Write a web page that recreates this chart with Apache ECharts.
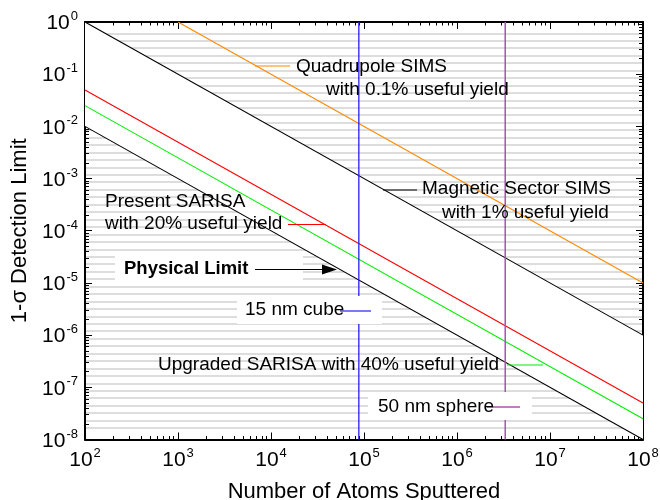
<!DOCTYPE html>
<html><head><meta charset="utf-8">
<script src="https://cdn.jsdelivr.net/npm/echarts@6/dist/echarts.min.js"></script>
<style>html,body{margin:0;padding:0;background:#fff}#c{width:660px;height:500px}</style>
</head><body><div id="c"></div>
<script>
// ---- data ----
var xTicks = [1e2, 1e3, 1e4, 1e5, 1e6, 1e7, 1e8];
var yTicks = [1e-8, 1e-7, 1e-6, 1e-5, 1e-4, 1e-3, 1e-2, 1e-1, 1e0];
var physicalLimit = [[1e2, 1e-2], [1e8, 1e-8]];
var upgradedSarisa = [[1e2, 2.5e-2], [1e8, 2.5e-8]];
var presentSarisa = [[1e2, 5e-2], [1e8, 5e-8]];
var magneticSims = [[1e2, 1], [1e8, 1e-6]];
var quadrupoleSims = [[1e3, 1], [1e8, 1e-5]];
var cube15nm = [[8.8e4, 1e-8], [8.8e4, 1]];
var sphere50nm = [[3.3e6, 1e-8], [3.3e6, 1]];

var FONT = '"Liberation Sans", Arial, sans-serif';
function minorVals(ticks) {
  var out = [];
  for (var i = 0; i < ticks.length - 1; i++) {
    for (var k = 2; k <= 9; k++) out.push(k * ticks[i]);
  }
  return out;
}
function supLabel(v) {
  var e = Math.round(Math.log10(v));
  return '{b|10}{s|' + e + '}';
}
var labelRich = {
  b: { fontSize: 21, fontFamily: FONT, color: '#000', lineHeight: 24, verticalAlign: 'bottom' },
  s: { fontSize: 13, fontFamily: FONT, color: '#000', lineHeight: 24, verticalAlign: 'top', padding: [0, 0, 0, 1] }
};
function logAxis(opts) {
  var base = {
    type: 'log', logBase: 10, gridIndex: 0,
    axisLine: { show: true, onZero: false, lineStyle: { color: '#000', width: 2 } },
    axisTick: { show: true, inside: true, length: 7, lineStyle: { color: '#000', width: 1 } },
    axisLabel: { show: false },
    splitLine: { show: false },
    minorTick: { show: false },
    minorSplitLine: { show: false }
  };
  for (var k in opts) base[k] = opts[k];
  return base;
}
var xMinor = minorVals(xTicks);
var yMinor = minorVals(yTicks);
var xCommon = { min: 1e2, max: 1e8, interval: 1 };
var yCommon = { min: 1e-8, max: 1, interval: 1 };
function ext(a, b) { var o = {}; for (var k in a) o[k] = a[k]; for (var k2 in b) o[k2] = b[k2]; return o; }

var chart = echarts.init(document.getElementById('c'), null, { renderer: 'canvas' });
var option = {
  animation: false,
  backgroundColor: '#fff',
  grid: [
    { left: 85, right: 17, top: 22, bottom: 60.5, containLabel: false, outerBoundsMode: 'none' },
    { left: 85, right: 17, top: 33.3, bottom: 72, containLabel: false, outerBoundsMode: 'none' }
  ],
  xAxis: [
    logAxis(ext(xCommon, {
      position: 'bottom',
      axisLabel: { show: true, margin: 7, formatter: supLabel, rich: labelRich },
      name: 'Number of Atoms Sputtered', nameLocation: 'middle', nameGap: 41,
      nameTextStyle: { fontSize: 22, fontFamily: FONT, color: '#000' }
    })),
    logAxis(ext(xCommon, { position: 'bottom', axisLine: { show: false },
      axisTick: { show: true, inside: true, length: 3.5, customValues: xMinor, lineStyle: { color: '#000', width: 1 } } })),
    logAxis(ext(xCommon, { position: 'top' })),
    logAxis(ext(xCommon, { position: 'top', axisLine: { show: false },
      axisTick: { show: true, inside: true, length: 3.5, customValues: xMinor, lineStyle: { color: '#000', width: 1 } } })),
    { type: 'value', gridIndex: 1, min: 0, max: 1, show: false }
  ],
  yAxis: [
    logAxis(ext(yCommon, {
      position: 'left',
      axisLabel: { show: true, margin: 7, formatter: supLabel, rich: labelRich },
      name: '1-σ Detection Limit', nameLocation: 'middle', nameGap: 51, nameRotate: 90,
      nameTextStyle: { fontSize: 22, fontFamily: FONT, color: '#000' }
    })),
    logAxis(ext(yCommon, { position: 'left', axisLine: { show: false },
      axisTick: { show: true, inside: true, length: 4, customValues: yMinor, lineStyle: { color: '#000', width: 1 } } })),
    logAxis(ext(yCommon, { position: 'right' })),
    logAxis(ext(yCommon, { position: 'right', axisLine: { show: false },
      axisTick: { show: true, inside: true, length: 4, customValues: yMinor, lineStyle: { color: '#000', width: 1 } } })),
    { type: 'value', gridIndex: 1, min: 0, max: 53, interval: 1,
      axisLine: { show: false }, axisTick: { show: false }, axisLabel: { show: false },
      splitLine: { show: true, lineStyle: { color: '#d2d2d2', width: 1.6 } } }
  ],
  series: [
    {
      type: 'custom', xAxisIndex: 0, yAxisIndex: 0, z: 1, silent: true,
      data: [[1e2, 1]],
      renderItem: function (params, api) {
        var pts = magneticSims.map(function (p) { return api.coord(p); })
          .concat(physicalLimit.slice().reverse().map(function (p) { return api.coord(p); }));
        return { type: 'polygon', shape: { points: pts }, style: { fill: '#fff' } };
      }
    },
    { type: 'line', xAxisIndex: 0, yAxisIndex: 0, data: physicalLimit, showSymbol: false, silent: true, z: 3, lineStyle: { color: '#000', width: 1.1 } },
    { type: 'line', xAxisIndex: 0, yAxisIndex: 0, data: upgradedSarisa, showSymbol: false, silent: true, z: 3, lineStyle: { color: '#00ee00', width: 1.1 } },
    { type: 'line', xAxisIndex: 0, yAxisIndex: 0, data: presentSarisa, showSymbol: false, silent: true, z: 3, lineStyle: { color: '#ff0000', width: 1.1 } },
    { type: 'line', xAxisIndex: 0, yAxisIndex: 0, data: magneticSims, showSymbol: false, silent: true, z: 3, lineStyle: { color: '#000', width: 1.1 } },
    { type: 'line', xAxisIndex: 0, yAxisIndex: 0, data: quadrupoleSims, showSymbol: false, silent: true, z: 3, lineStyle: { color: '#ff8800', width: 1.1 } },
    { type: 'line', xAxisIndex: 0, yAxisIndex: 0, data: cube15nm, showSymbol: false, silent: true, z: 3, lineStyle: { color: '#2222ee', width: 1.3 } },
    { type: 'line', xAxisIndex: 0, yAxisIndex: 0, data: sphere50nm, showSymbol: false, silent: true, z: 3, lineStyle: { color: '#a850b8', width: 1.5 } }
  ],
  graphic: [
    // white label boxes
    { type: 'rect', z: 100, silent: true, shape: { x: 115, y: 255, width: 188, height: 30 }, style: { fill: '#fff' } },
    { type: 'rect', z: 100, silent: true, shape: { x: 237, y: 296, width: 145, height: 28 }, style: { fill: '#fff' } },
    { type: 'rect', z: 100, silent: true, shape: { x: 368, y: 392, width: 164, height: 28 }, style: { fill: '#fff' } },
    // leader lines
    { type: 'line', z: 101, silent: true, shape: { x1: 255, y1: 66, x2: 290, y2: 66 }, style: { stroke: '#ff8800', lineWidth: 1.2 } },
    { type: 'line', z: 101, silent: true, shape: { x1: 383, y1: 190, x2: 417, y2: 190 }, style: { stroke: '#000', lineWidth: 1.2 } },
    { type: 'line', z: 101, silent: true, shape: { x1: 288, y1: 224.5, x2: 326, y2: 224.5 }, style: { stroke: '#ff0000', lineWidth: 1.2 } },
    { type: 'line', z: 101, silent: true, shape: { x1: 255, y1: 269.5, x2: 325, y2: 269.5 }, style: { stroke: '#000', lineWidth: 1.2 } },
    { type: 'polygon', z: 101, silent: true, shape: { points: [[322, 264.5], [337, 269.5], [322, 274.5]] }, style: { fill: '#000' } },
    { type: 'line', z: 101, silent: true, shape: { x1: 340, y1: 311, x2: 371, y2: 311 }, style: { stroke: '#2222ee', lineWidth: 1.2 } },
    { type: 'line', z: 101, silent: true, shape: { x1: 507, y1: 365, x2: 543, y2: 365 }, style: { stroke: '#00ee00', lineWidth: 1.2 } },
    { type: 'line', z: 101, silent: true, shape: { x1: 487, y1: 407, x2: 520, y2: 407 }, style: { stroke: '#800080', lineWidth: 1.2 } },
    // texts
    { type: 'text', z: 102, silent: true, style: { text: 'Quadrupole SIMS', x: 296, y: 67, font: '19px ' + FONT, fill: '#000', verticalAlign: 'middle' } },
    { type: 'text', z: 102, silent: true, style: { text: 'with 0.1% useful yield', x: 326, y: 90, font: '19px ' + FONT, fill: '#000', verticalAlign: 'middle' } },
    { type: 'text', z: 102, silent: true, style: { text: 'Magnetic Sector SIMS', x: 422, y: 189, font: '19px ' + FONT, fill: '#000', verticalAlign: 'middle' } },
    { type: 'text', z: 102, silent: true, style: { text: 'with 1% useful yield', x: 442, y: 213, font: '19px ' + FONT, fill: '#000', verticalAlign: 'middle' } },
    { type: 'text', z: 102, silent: true, style: { text: 'Present SARISA', x: 105, y: 202, font: '19px ' + FONT, fill: '#000', verticalAlign: 'middle' } },
    { type: 'text', z: 102, silent: true, style: { text: 'with 20% useful yield', x: 105, y: 224, font: '19px ' + FONT, fill: '#000', verticalAlign: 'middle' } },
    { type: 'text', z: 102, silent: true, style: { text: 'Physical Limit', x: 124, y: 269, font: 'bold 18.5px ' + FONT, fill: '#000', verticalAlign: 'middle' } },
    { type: 'text', z: 102, silent: true, style: { text: '15 nm cube', x: 245, y: 310, font: '19px ' + FONT, fill: '#000', verticalAlign: 'middle' } },
    { type: 'text', z: 102, silent: true, style: { text: 'Upgraded SARISA with 40% useful yield', x: 158, y: 365, font: '19px ' + FONT, fill: '#000', verticalAlign: 'middle' } },
    { type: 'text', z: 102, silent: true, style: { text: '50 nm sphere', x: 378, y: 407, font: '19px ' + FONT, fill: '#000', verticalAlign: 'middle' } }
  ]
};
chart.setOption(option);
</script>
</body></html>
